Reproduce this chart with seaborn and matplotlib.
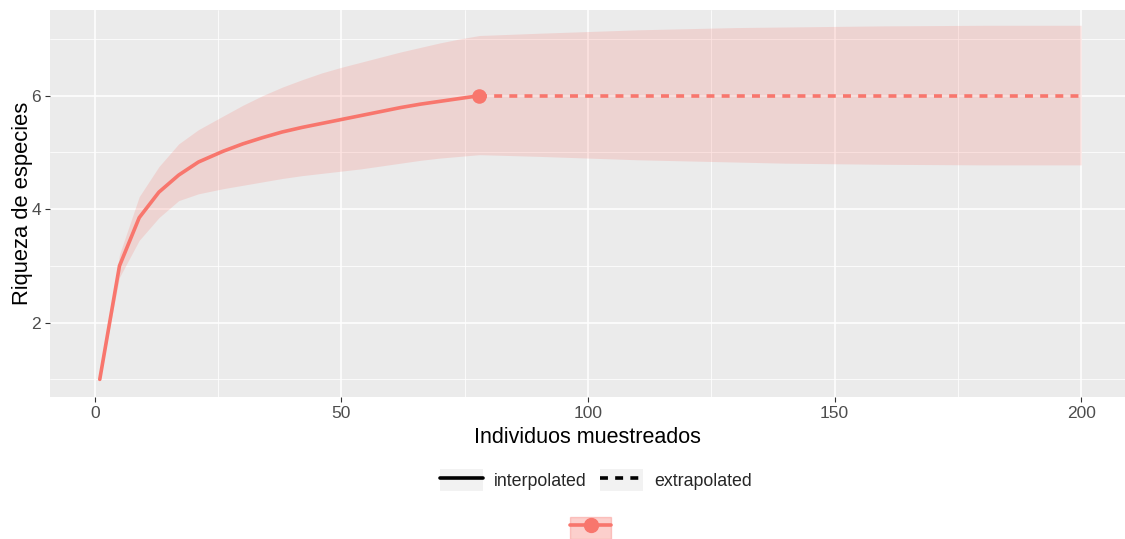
import matplotlib

matplotlib.use("Agg")
import matplotlib.pyplot as plt
import pandas as pd
import seaborn as sns
from matplotlib.lines import Line2D
from matplotlib.patches import Patch
from matplotlib.ticker import MultipleLocator

# rarefaction (interpolated) part
interp_x = [1, 5, 9, 13, 17, 21, 26, 30, 34, 38, 42, 46, 50, 54, 58, 62, 66, 70, 74, 78]
interp_y = [1.0, 3.0, 3.85, 4.3, 4.6, 4.83, 5.02, 5.15, 5.26, 5.36, 5.44, 5.51, 5.58,
            5.65, 5.72, 5.79, 5.85, 5.9, 5.95, 6.0]
interp_lo = [1.0, 2.8, 3.45, 3.85, 4.15, 4.27, 4.36, 4.42, 4.48, 4.54, 4.59, 4.63, 4.67,
             4.71, 4.76, 4.81, 4.86, 4.9, 4.93, 4.96]
interp_hi = [1.0, 3.2, 4.22, 4.75, 5.15, 5.4, 5.64, 5.83, 6.0, 6.15, 6.28, 6.4, 6.5,
             6.59, 6.68, 6.77, 6.85, 6.93, 7.0, 7.06]

# extrapolated part
extrap_x = [78, 90, 100, 110, 120, 130, 140, 150, 160, 170, 180, 190, 200]
extrap_y = [6.0] * 13
extrap_lo = [4.96, 4.93, 4.9, 4.87, 4.85, 4.83, 4.81, 4.8, 4.79, 4.785, 4.78, 4.78, 4.78]
extrap_hi = [7.06, 7.1, 7.13, 7.16, 7.18, 7.2, 7.21, 7.22, 7.23, 7.235, 7.24, 7.24, 7.24]

# observed sample
obs_x = [78]
obs_y = [6.0]

red = "#F8766D"

sns.set_theme(style="darkgrid", rc={
    "axes.facecolor": "#EBEBEB",
    "grid.color": "white",
    "axes.edgecolor": "#EBEBEB",
})
plt.rcParams["font.family"] = ["Liberation Sans", "DejaVu Sans"]

interp = pd.DataFrame({"m": interp_x, "qD": interp_y, "lo": interp_lo, "hi": interp_hi})
extrap = pd.DataFrame({"m": extrap_x, "qD": extrap_y, "lo": extrap_lo, "hi": extrap_hi})
band = pd.concat([interp, extrap.iloc[1:]], ignore_index=True)

fig = plt.figure(figsize=(11.25, 5.39), dpi=100)
ax = fig.add_axes([0.0444, 0.2635, 0.9556, 0.718])

ax.fill_between(band["m"], band["lo"], band["hi"], color=red, alpha=0.2, linewidth=0)
sns.lineplot(data=interp, x="m", y="qD", color=red, linewidth=2.6, ax=ax)
sns.lineplot(data=extrap, x="m", y="qD", color=red, linewidth=2.6, ax=ax,
             dashes=False)
ax.lines[-1].set_dashes((2.2, 2.0))
sns.scatterplot(x=obs_x, y=obs_y, color=red, s=110, edgecolor=red, linewidth=0,
                ax=ax, zorder=5)

ax.set_xlim(-9.1, 208.9)
ax.set_ylim(0.69, 7.51)
ax.xaxis.set_major_locator(MultipleLocator(50))
ax.xaxis.set_minor_locator(MultipleLocator(25))
ax.yaxis.set_major_locator(MultipleLocator(2))
ax.yaxis.set_minor_locator(MultipleLocator(1))
ax.grid(which="major", color="white", linewidth=1.1)
ax.grid(which="minor", color="white", linewidth=0.55)
ax.tick_params(which="major", length=3.5, width=0.8, color="#333333",
               labelsize=12.5, labelcolor="#4D4D4D", pad=3, bottom=True, left=True)
ax.tick_params(which="minor", length=0)
for s in ax.spines.values():
    s.set_visible(False)

ax.set_xlabel("Individuos muestreados", fontsize=15.5, color="black", labelpad=4)
ax.set_ylabel("Riqueza de especies", fontsize=15.8, color="black")
ax.yaxis.set_label_coords(-0.016, 0.5)

# legends below the panel
key_bg = "#F2F2F2"
h1 = (Patch(facecolor=key_bg, edgecolor="none"), Line2D([], [], color="black", linewidth=2.6))
h2 = (Patch(facecolor=key_bg, edgecolor="none"),
      Line2D([], [], color="black", linewidth=2.6, dashes=(2.2, 2.0)))
fig.legend(handles=[h1, h2], labels=["interpolated", "extrapolated"], loc="center",
           bbox_to_anchor=(0.53, 1 - 480 / 539), ncol=2, frameon=False,
           fontsize=12.8, handlelength=2.4, handleheight=1.5, handletextpad=0.65,
           columnspacing=0.75, borderpad=0)

h3 = (Patch(facecolor=red, alpha=0.35, edgecolor=red, linewidth=1),
      Line2D([], [], color=red, linewidth=2.6, marker="o", markersize=10))
fig.legend(handles=[h3], labels=[""], loc="center", bbox_to_anchor=(0.525, 1 - 528 / 539),
           frameon=False, fontsize=12, handlelength=2.5, handleheight=1.6,
           handletextpad=0, borderpad=0)

fig.savefig("out.png", dpi=100)
